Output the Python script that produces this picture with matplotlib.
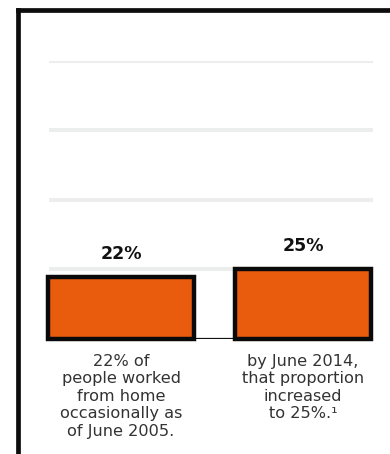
import matplotlib
matplotlib.use("Agg")
import matplotlib.pyplot as plt
from matplotlib.lines import Line2D

plt.rcParams['font.family'] = ['DejaVu Sans']

categories = ["June 2005", "June 2014"]
values = [22, 25]
value_labels = ["22%", "25%"]
descriptions = [
    "22% of\npeople worked\nfrom home\noccasionally as\nof June 2005.",
    "by June 2014,\nthat proportion\nincreased\nto 25%.\u00b9",
]
grid_ticks = [0, 25, 50, 75, 100]

W, H = 390, 454
fig = plt.figure(figsize=(W / 100, H / 100), dpi=100)
fig.patch.set_facecolor("white")

def fx(px):
    return px / W

def fy(py):
    return 1 - py / H

ax = fig.add_axes([fx(49), fy(338.5), fx(373) - fx(49), fy(60.5) - fy(338.5)])
ax.set_xlim(-0.396, 1.385)
ax.set_ylim(0, 100)
for s in ax.spines.values():
    s.set_visible(False)
ax.set_xticks([])
ax.set_yticks([])
ax.patch.set_alpha(0)

for t in grid_ticks[1:]:
    ax.axhline(t, color="#eceeee", lw=2.9, zorder=0)

xs = list(range(len(categories)))
widths = [0.80, 0.75]
ax.plot([xs[0], xs[1]], [0, 0], color="#111111", lw=1.6, zorder=1, solid_capstyle="butt")
bars = ax.bar(xs, values, width=widths, color="#E95C0D", edgecolor="#0a0a0a",
              linewidth=3.2, zorder=2, clip_on=False)

for b, lab in zip(bars, value_labels):
    ax.annotate(lab, (b.get_x() + b.get_width() / 2, b.get_height()),
                xytext=(0, 10), textcoords="offset points",
                ha="center", va="bottom", fontsize=12.5, fontweight="bold",
                color="#111111")

for x, d in zip(xs, descriptions):
    ax.annotate(d, (x, 0), xytext=(0, -11), textcoords="offset points",
                ha="center", va="top", fontsize=11.6, fontweight="normal",
                color="#333333", linespacing=1.21, multialignment="center")

# frame
fig.add_artist(Line2D([fx(18.3), fx(18.3)], [fy(10.3), 0], transform=fig.transFigure,
                      color="#0d0d0d", lw=3.4, solid_capstyle="projecting"))
fig.add_artist(Line2D([fx(18.3), 1], [fy(10.3), fy(10.3)], transform=fig.transFigure,
                      color="#0d0d0d", lw=3.4, solid_capstyle="projecting"))

fig.savefig("out.png", dpi=100, facecolor="white")
